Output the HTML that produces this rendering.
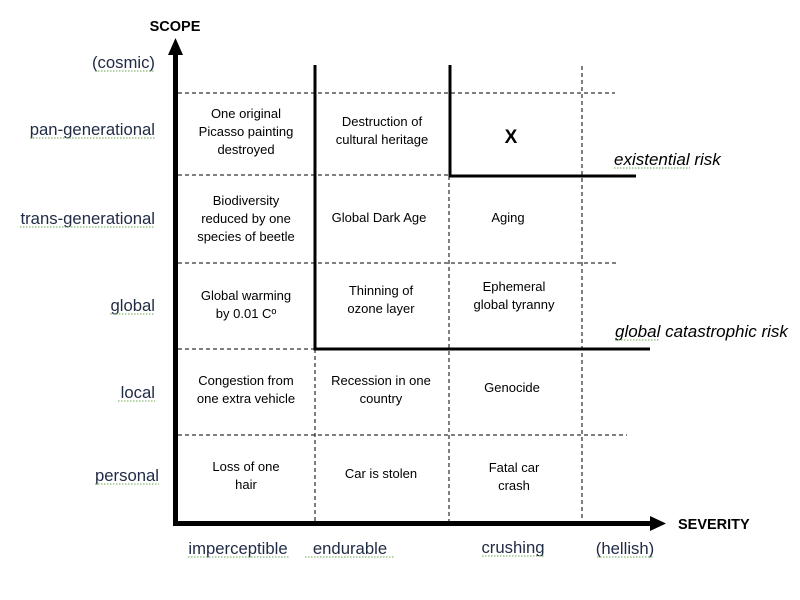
<!DOCTYPE html>
<html><head><meta charset="utf-8"><style>
html,body{margin:0;padding:0;background:#fff;}
svg{display:block;font-family:"Liberation Sans",sans-serif;}
.c{font-size:13px;fill:#000;text-anchor:middle;}
.a{font-size:16.7px;fill:#1f2a44;}
.u{stroke:#6aa84f;stroke-width:1;stroke-dasharray:1.5 1.5;fill:none;}
</style></head><body>
<svg width="800" height="600" viewBox="0 0 800 600">
<g stroke="#000" stroke-width="1" stroke-dasharray="4 3">
<line x1="178" y1="93" x2="615" y2="93"/>
<line x1="178" y1="175" x2="615" y2="175"/>
<line x1="178" y1="263" x2="617" y2="263"/>
<line x1="178" y1="349" x2="315" y2="349"/>
<line x1="178" y1="435" x2="627" y2="435"/>
<line x1="315" y1="349" x2="315" y2="521"/>
<line x1="449" y1="176" x2="449" y2="521"/>
<line x1="582" y1="66" x2="582" y2="521"/>
</g>
<g stroke="#000" stroke-width="3" fill="none">
<polyline points="315,65 315,349 650,349"/>
<polyline points="450,65 450,176 636,176"/>
</g>
<line x1="175.5" y1="52" x2="175.5" y2="526" stroke="#000" stroke-width="5"/>
<polygon points="175.5,38 168,55 183,55" fill="#000"/>
<line x1="173" y1="523.5" x2="652" y2="523.5" stroke="#000" stroke-width="5"/>
<polygon points="666,523.5 650,516 650,531" fill="#000"/>
<text x="175" y="31" font-size="14.5" font-weight="bold" text-anchor="middle">SCOPE</text>
<text x="678" y="529" font-size="14.5" font-weight="bold">SEVERITY</text>
<g class="a" text-anchor="end">
<text x="155" y="68">(cosmic)</text>
<text x="155" y="135">pan-generational</text>
<text x="155" y="224">trans-generational</text>
<text x="155" y="311">global</text>
<text x="155" y="398">local</text>
<text x="159" y="481">personal</text>
</g>
<g class="a" text-anchor="middle">
<text x="238" y="554">imperceptible</text>
<text x="350" y="554">endurable</text>
<text x="513" y="553">crushing</text>
<text x="625" y="554">(hellish)</text>
</g>
<g class="c">
<text x="246" y="118">One original</text><text x="246" y="136">Picasso painting</text><text x="246" y="154">destroyed</text>
<text x="246" y="205">Biodiversity</text><text x="246" y="223">reduced by one</text><text x="246" y="241">species of beetle</text>
<text x="246" y="300">Global warming</text><text x="246" y="318">by 0.01 Cº</text>
<text x="246" y="385">Congestion from</text><text x="246" y="403">one extra vehicle</text>
<text x="246" y="471">Loss of one</text><text x="246" y="489">hair</text>
<text x="382" y="126">Destruction of</text><text x="382" y="144">cultural heritage</text>
<text x="379" y="222">Global Dark Age</text>
<text x="381" y="295">Thinning of</text><text x="381" y="313">ozone layer</text>
<text x="381" y="385">Recession in one</text><text x="381" y="403">country</text>
<text x="381" y="478">Car is stolen</text>
<text x="508" y="222">Aging</text>
<text x="514" y="291">Ephemeral</text><text x="514" y="309">global tyranny</text>
<text x="512" y="392">Genocide</text>
<text x="514" y="472">Fatal car</text><text x="514" y="490">crash</text>
</g>
<text x="511" y="143" font-size="19" font-weight="bold" text-anchor="middle">X</text>
<text x="614" y="165" font-size="17" font-style="italic">existential risk</text>
<text x="615" y="337" font-size="17" font-style="italic">global catastrophic risk</text>
<g class="u">
<line x1="95" y1="71" x2="154" y2="71"/>
<line x1="30" y1="138" x2="155" y2="138"/>
<line x1="20" y1="227" x2="155" y2="227"/>
<line x1="110" y1="314" x2="155" y2="314"/>
<line x1="118" y1="401" x2="155" y2="401"/>
<line x1="95" y1="484" x2="159" y2="484"/>
<line x1="188" y1="557" x2="289" y2="557"/>
<line x1="305" y1="557" x2="395" y2="557"/>
<line x1="482" y1="556" x2="544" y2="556"/>
<line x1="597" y1="557" x2="653" y2="557"/>
<line x1="614" y1="168" x2="690" y2="168"/>
<line x1="615" y1="340" x2="660" y2="340"/>
</g>
</svg>
</body></html>
